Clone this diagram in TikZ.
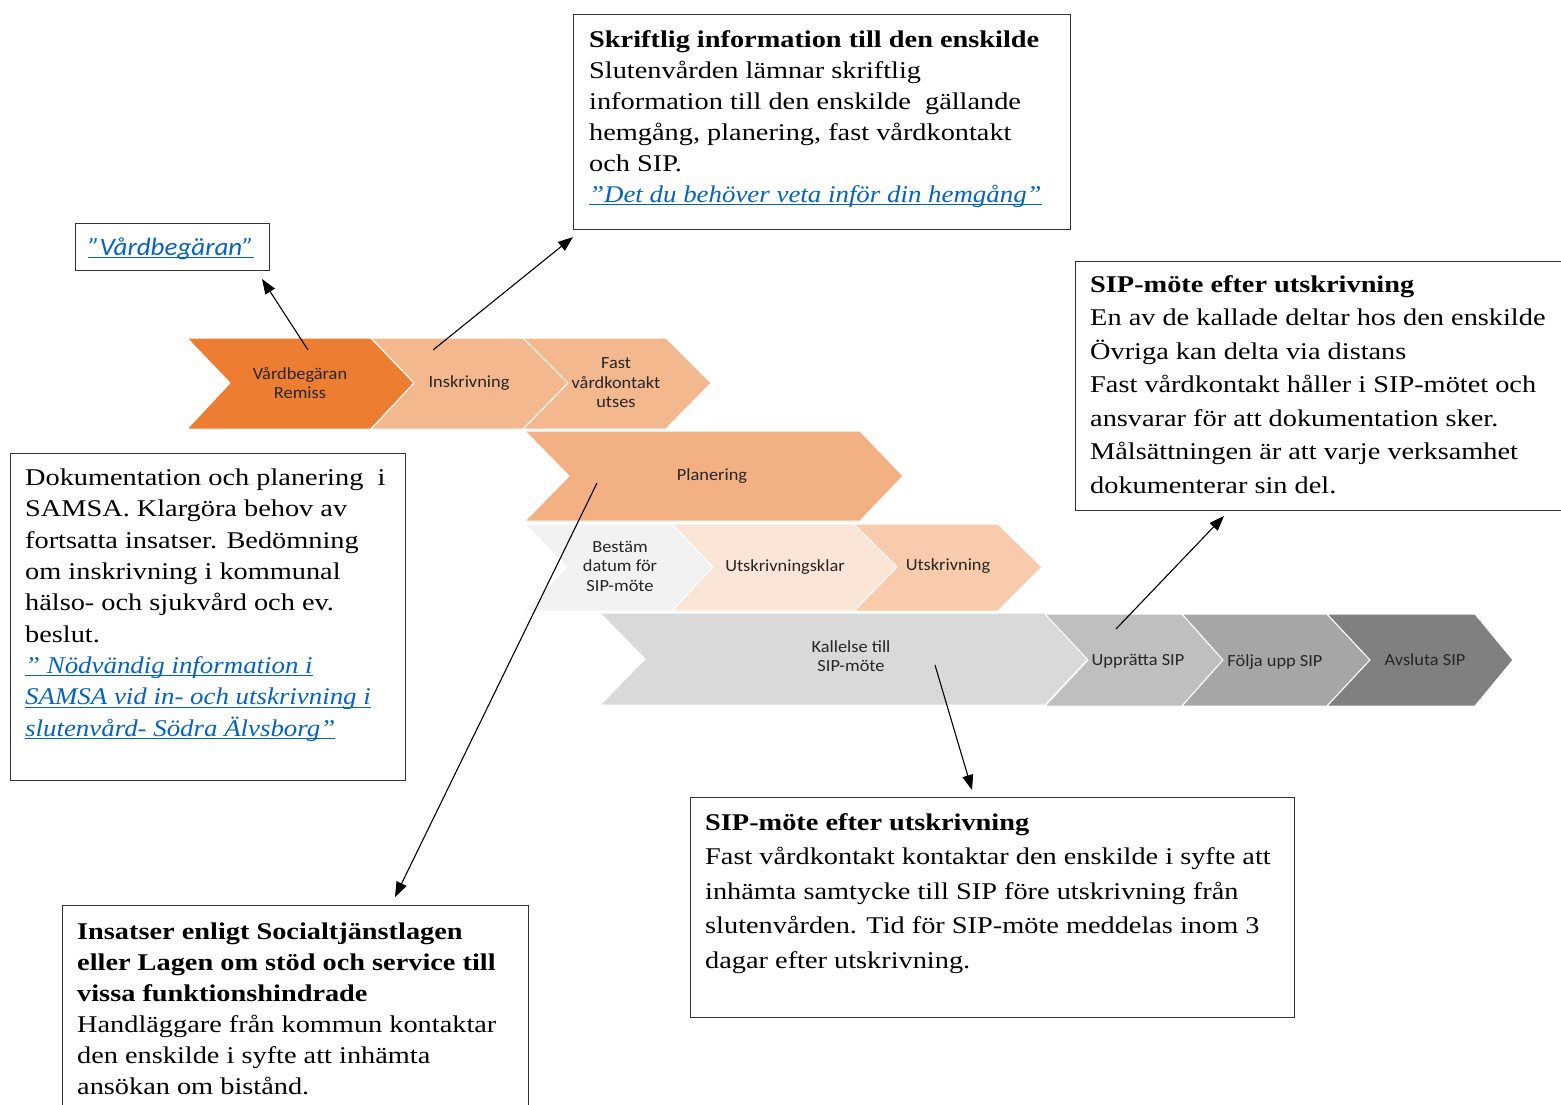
\documentclass[tikz,border=0pt]{standalone}
\usepackage{fontspec}
\setmainfont{Liberation Serif}[FakeStretch=1.18]
\newfontfamily\linkfont{Liberation Serif}[FakeStretch=1.12]
\newfontfamily\chevfont{Carlito}[FakeStretch=1.08]
\usetikzlibrary{arrows.meta}
\definecolor{linkblue}{HTML}{0563C1}
\definecolor{cOrange}{HTML}{ED7D31}
\definecolor{cLight}{HTML}{F4B88E}
\definecolor{cPlan}{HTML}{F3B083}
\definecolor{cGrayA}{HTML}{F2F2F2}
\definecolor{cPeachA}{HTML}{FBE5D6}
\definecolor{cPeachB}{HTML}{F8CBAD}
\definecolor{cG1}{HTML}{D9D9D9}
\definecolor{cG2}{HTML}{BFBFBF}
\definecolor{cG3}{HTML}{A6A6A6}
\definecolor{cG4}{HTML}{808080}
\definecolor{boxline}{HTML}{333333}
\newcommand{\lnkraw}[1]{{\color{linkblue}\itshape\setbox0=\hbox{#1}\rlap{\rule[-3pt]{\wd0}{1.2pt}}\box0}}
\newcommand{\lnk}[1]{{\linkfont\lnkraw{#1}}}
\tikzset{
  chev/.style={draw=white, line width=1pt},
  ctext/.style={font=\chevfont\fontsize{17}{19.5}\selectfont, text=black!85, align=center, inner sep=0},
  infobox/.style={draw=boxline, line width=1.2pt, anchor=north west, inner sep=0},
  btext/.style={anchor=base west, align=left, inner sep=0, font=\fontsize{24}{31}\selectfont},
  conn/.style={line width=1.1pt, -{Triangle[length=15pt,width=11pt]}}
}
\begin{document}
\begin{tikzpicture}[x=1pt,y=-1pt]
\useasboundingbox (0,0) rectangle (1561,1104);
\fill[white] (0,0) rectangle (1561,1104);

% ---- row 1
\path[chev, fill=cOrange] (187,338) -- (371,338) -- (414,383) -- (371,429) -- (187,429) -- (230,383) -- cycle;
\path[chev, fill=cLight] (371,338) -- (523,338) -- (568,383) -- (523,429) -- (371,429) -- (414,383) -- cycle;
\path[chev, fill=cLight] (523,338) -- (666,338) -- (711,383) -- (666,429) -- (523,429) -- (568,383) -- cycle;
\node[ctext] (cVb) at (300,383) {Vårdbegäran\\Remiss};
\node[ctext] (cIn) at (469,383) {Inskrivning};
\node[ctext] (cFa) at (616,383) {Fast\\vårdkontakt\\utses};

% ---- row 2
\path[chev, fill=cPlan] (525,431) -- (860,431) -- (903,476) -- (860,521) -- (525,521) -- (569,476) -- cycle;
\node[ctext] (cPl) at (712,476) {Planering};

% ---- row 3
\path[chev, fill=cGrayA] (525,524) -- (672,524) -- (713,567) -- (672,611) -- (525,611) -- (567,567) -- cycle;
\path[chev, fill=cPeachA] (672,524) -- (854,524) -- (897,567) -- (854,611) -- (672,611) -- (713,567) -- cycle;
\path[chev, fill=cPeachB] (854,524) -- (998,524) -- (1042,567) -- (998,611) -- (854,611) -- (897,567) -- cycle;
\node[ctext] (cBe) at (620,566) {Bestäm\\datum för\\SIP-möte};
\node[ctext] (cUk) at (785,567) {Utskrivningsklar};
\node[ctext] (cUt) at (948,566) {Utskrivning};

% ---- row 4
\path[chev, fill=cG1] (600,613) -- (1045,613) -- (1088,659) -- (1045,705) -- (600,705) -- (645,659) -- cycle;
\path[chev, fill=cG2] (1045,614) -- (1182,614) -- (1223,660) -- (1182,706) -- (1045,706) -- (1088,660) -- cycle;
\path[chev, fill=cG3] (1182,614) -- (1327,614) -- (1370,660) -- (1327,706) -- (1182,706) -- (1223,660) -- cycle;
\path[chev, fill=cG4] (1327,614) -- (1475,614) -- (1513,660) -- (1475,706) -- (1327,706) -- (1370,660) -- cycle;
\node[ctext] (cKa) at (851,656) {Kallelse till\\SIP-möte};
\node[ctext] (cUp) at (1138,661) {Upprätta SIP};
\node[ctext] (cFo) at (1275,662) {Följa upp SIP};
\node[ctext] (cAv) at (1425,660) {Avsluta SIP};

% ---- boxes
\node[infobox, minimum width=194, minimum height=47] (bVb) at (75,223) {};
\node[anchor=base, inner sep=0, font=\chevfont\itshape\fontsize{25}{28}\selectfont] (tVb) at (171,255) {\lnkraw{”Vårdbegäran”}};

\node[infobox, minimum width=497, minimum height=215] (bSk) at (573,14) {};
\node[btext] (tSk) at (589,202) {\textbf{Skriftlig information till den enskilde}\\
Slutenvården lämnar skriftlig\\
information till den enskilde\ \ gällande\\
hemgång, planering, fast vårdkontakt\\
och SIP.\\
\lnk{”Det du behöver veta inför din hemgång”}};

\node[infobox, minimum width=500, minimum height=249] (bSa) at (1075,261) {};
\node[btext, font=\fontsize{24}{33.5}\selectfont] (tSa) at (1090,493) {\textbf{SIP-möte efter utskrivning}\\
En av de kallade deltar hos den enskilde\\
Övriga kan delta via distans\\
Fast vårdkontakt håller i SIP-mötet och\\
ansvarar för att dokumentation sker.\\
Målsättningen är att varje verksamhet\\
dokumenterar sin del.};

\node[infobox, minimum width=395, minimum height=327] (bDo) at (10,453) {};
\node[btext, font=\fontsize{24}{31.3}\selectfont] (tDo) at (25,736) {Dokumentation och planering\ \ i\\
SAMSA. Klargöra behov av\\
fortsatta insatser. Bedömning\\
om inskrivning i kommunal\\
hälso- och sjukvård och ev.\\
beslut.\\
\lnk{” Nödvändig information i}\\
\lnk{SAMSA vid in- och utskrivning i}\\
\lnk{slutenvård- Södra Älvsborg”}};

\node[infobox, minimum width=466, minimum height=215] (bIn) at (62,905) {};
\node[btext] (tIn) at (77,1094) {\textbf{Insatser enligt Socialtjänstlagen}\\
\textbf{eller Lagen om stöd och service till}\\
\textbf{vissa funktionshindrade}\\
Handläggare från kommun kontaktar\\
den enskilde i syfte att inhämta\\
ansökan om bistånd.};

\node[infobox, minimum width=604, minimum height=220] (bSb) at (690,797) {};
\node[btext, font=\fontsize{24}{34.5}\selectfont] (tSb) at (705,968) {\textbf{SIP-möte efter utskrivning}\\
Fast vårdkontakt kontaktar den enskilde i syfte att\\
inhämta samtycke till SIP före utskrivning från\\
slutenvården. Tid för SIP-möte meddelas inom 3\\
dagar efter utskrivning.};

% ---- connectors
\coordinate (a1s) at (308,350); \coordinate (a1e) at (262,279);
\coordinate (a2s) at (433,350); \coordinate (a2e) at (573,237);
\coordinate (a3s) at (597,483); \coordinate (a3e) at (395,897);
\coordinate (a4s) at (935,665); \coordinate (a4e) at (972,790);
\coordinate (a5s) at (1116,629); \coordinate (a5e) at (1224,516);
\draw[conn] (a1s) -- (a1e);
\draw[conn] (a2s) -- (a2e);
\draw[conn] (a3s) -- (a3e);
\draw[conn] (a4s) -- (a4e);
\draw[conn] (a5s) -- (a5e);
\end{tikzpicture}
\end{document}
